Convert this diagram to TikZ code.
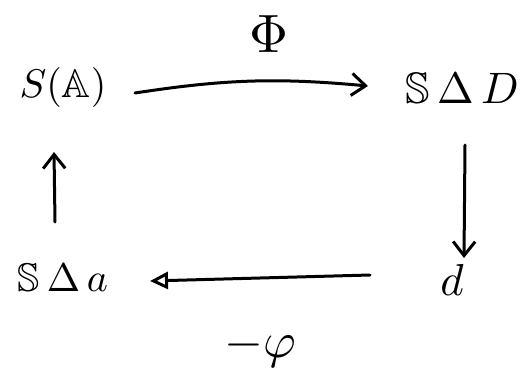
\documentclass[tikz,border=0pt]{standalone}
\usepackage{amssymb}
\usetikzlibrary{arrows.meta,calc}
\begin{document}
\begin{tikzpicture}[x=1pt,y=-1pt,
  lbl/.style={inner sep=0pt,scale=4},
  arr/.style={line width=3pt,line cap=round,-{Straight Barb[length=14pt,width=22pt,line width=3pt]}},
  oarr/.style={line width=3pt,line cap=round,-{Triangle[open,length=18pt,width=17pt,line width=3pt]}}]
\useasboundingbox (0,0) rectangle (525,381);
\node[lbl] (sa) at (63,87) {$S(\mathbb{A})$};
\node[lbl,scale=1.1] (sd) at (462,88) {$\mathbb{S}\,\Delta\,D$};
\node[lbl,scale=1.12] (d) at (452,280) {$d$};
\node[lbl] (sda) at (63,278) {$\mathbb{S}\,\Delta\,a$};
\node[lbl,scale=1.35] (phi) at (269,34) {$\Phi$};
\node[lbl,scale=1.25] (mphi) at (260,348) {$-\varphi$};
\draw[arr] ($(sa.center)+(72,6)$) to[bend left=7] ($(sd.center)+(-94,-2)$);
\draw[arr] ($(sd.center)+(3,57)$) -- ($(d.center)+(12,-22)$);
\draw[oarr] ($(d.center)+(-82,-5)$) -- ($(sda.center)+(87,3)$);
\draw[arr] ($(sda.center)+(-8,-56)$) -- ($(sa.center)+(-9,65)$);
\end{tikzpicture}
\end{document}
